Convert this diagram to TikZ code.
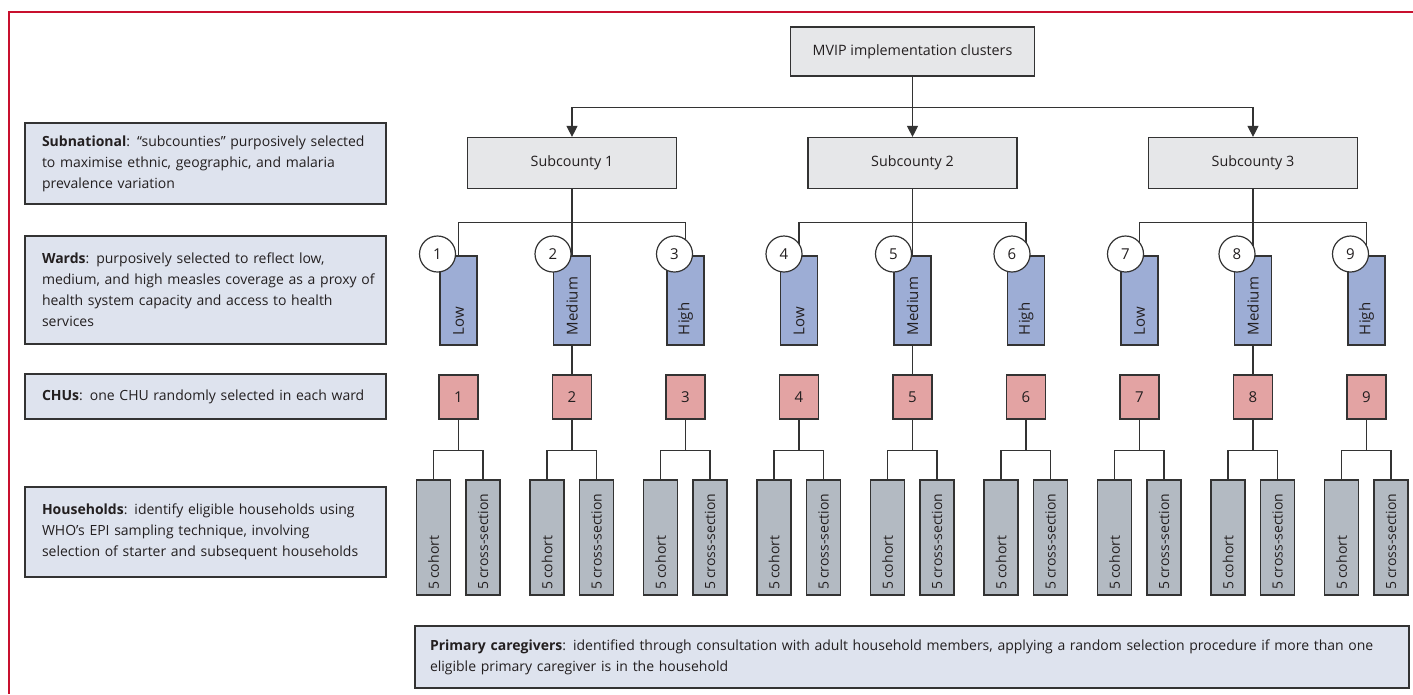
\documentclass[tikz,border=0pt]{standalone}
\usepackage{fontspec}
\setmainfont{Open Sans}
\usetikzlibrary{arrows.meta}
\definecolor{framered}{HTML}{C8102E}
\definecolor{ink}{HTML}{333333}
\definecolor{txt}{HTML}{231F20}
\definecolor{infobg}{HTML}{DEE3EE}
\definecolor{scbg}{HTML}{E6E7E9}
\definecolor{wardbg}{HTML}{9DADD5}
\definecolor{chubg}{HTML}{E3A3A3}
\definecolor{hhbg}{HTML}{B3BAC2}
\tikzset{
  base/.style={draw=ink, line width=1.2pt, text=txt, font=\fontsize{14}{21}\selectfont},
  infobox/.style={base, fill=infobg, align=left, text width=327pt, inner xsep=17pt, inner ysep=0pt},
  topbox/.style={base, fill=scbg, minimum width=244pt, minimum height=49pt, inner sep=0pt, font=\fontsize{14.3}{17}\selectfont},
  scbox/.style={base, fill=scbg, minimum width=209pt, minimum height=51pt, inner sep=0pt, font=\fontsize{14.3}{17}\selectfont},
  wardbox/.style={base, fill=wardbg, rotate=90, minimum height=37pt, text width=69pt, inner xsep=10pt, inner ysep=0pt, minimum width=89pt, align=left, font=\fontsize{15}{17}\selectfont},
  numcirc/.style={base, circle, fill=white, minimum size=36pt, inner sep=0pt, font=\fontsize{15}{17}\selectfont},
  chubox/.style={base, fill=chubg, minimum width=39pt, minimum height=44pt, inner sep=0pt, font=\fontsize{15}{17}\selectfont},
  hhbox/.style={base, fill=hhbg, rotate=90, minimum height=34pt, text width=103pt, inner xsep=6pt, inner ysep=0pt, minimum width=115pt, align=left, font=\fontsize{14}{16}\selectfont},
  conn/.style={draw=ink, line width=1.2pt},
  arr/.style={conn, -{Triangle[width=11pt,length=11pt]}},
  framerule/.style={draw=framered, line width=1.2pt}
}
\begin{document}
\begin{tikzpicture}[x=1pt, y=-1pt]
\useasboundingbox (0,0) rectangle (1413,694);
\draw[framerule] (1413,12) -- (9,12) -- (9,694);

% left information boxes
\node[infobox, minimum height=81pt] (lsub) at (205.5,163.5) {\mbox{\textbf{Subnational}: “subcounties” purposively selected}\\\mbox{to maximise ethnic, geographic, and malaria}\\\mbox{prevalence variation}};
\node[infobox, minimum height=108pt] (lward) at (205.5,290) {\mbox{\textbf{Wards}: purposively selected to reflect low,}\\\mbox{medium, and high measles coverage as a proxy of}\\\mbox{health system capacity and access to health}\\\mbox{services}};
\node[infobox, minimum height=45pt] (lchu) at (205.5,396.5) {\mbox{\textbf{CHUs}: one CHU randomly selected in each ward}};
\node[infobox, minimum height=90pt] (lhh) at (205.5,532) {\mbox{\textbf{Households}: identify eligible households using}\\\mbox{WHO’s EPI sampling technique, involving}\\\mbox{selection of starter and subsequent households}};
\node[infobox, text width=964pt, inner xsep=15pt, minimum height=62pt] (lpc) at (912,657) {\mbox{\textbf{Primary caregivers}: identified through consultation with adult household members, applying a random selection procedure if more than one}\\\mbox{eligible primary caregiver is in the household}};

% top and subcounties
\node[topbox] (top) at (912.5,51.5) {MVIP implementation clusters};
\node[scbox] (sc1) at (572,163) {Subcounty 1};
\node[scbox] (sc2) at (912.5,163) {Subcounty 2};
\node[scbox] (sc3) at (1253,163) {Subcounty 3};
\draw[conn] (top.south) -- ++(0,31) coordinate (tj);
\draw[arr] (tj) -- (sc2.north);
\draw[arr] (tj) -| (sc1.north);
\draw[arr] (tj) -| (sc3.north);

% wards, CHUs, households
\foreach \k/\lab in {1/Low,2/Medium,3/High,4/Low,5/Medium,6/High,7/Low,8/Medium,9/High}{
  \pgfmathsetmacro{\cx}{458.5+113.5*(\k-1)}
  \node[wardbox] (w\k) at (\cx,300.5) {\lab};
  \node[chubox] (h\k) at (\cx,397) {\k};
  \node[hhbox] (hc\k) at (\cx-25,537.5) {\mbox{5\,cohort}};
  \node[hhbox] (hx\k) at (\cx+24.5,537.5) {\mbox{5\,cross-section}};
  \draw[conn] (h\k.south) -- ++(0,31) coordinate (hj\k);
  \draw[conn] (hc\k.east) |- (hj\k) -| (hx\k.east);
}
\foreach \s/\a/\b/\m in {1/1/3/2,2/4/6/5,3/7/9/8}{
  \draw[conn] (sc\s.south) -- ++(0,33) coordinate (sj\s);
  \draw[conn] (w\a.east) |- (sj\s) -| (w\b.east);
  \draw[conn] (sj\s) -- (w\m.east);
  \draw[conn] (w\m.west) -- (h\m.north);
}
\foreach \k/\dx in {1/-21,2/-19,3/-11,4/-15,5/-19,6/-14,7/-14,8/-16,9/-16}{
  \pgfmathsetmacro{\cx}{458.5+113.5*(\k-1)+\dx}
  \node[numcirc] (n\k) at (\cx,254) {\k};
}
\end{tikzpicture}
\end{document}
